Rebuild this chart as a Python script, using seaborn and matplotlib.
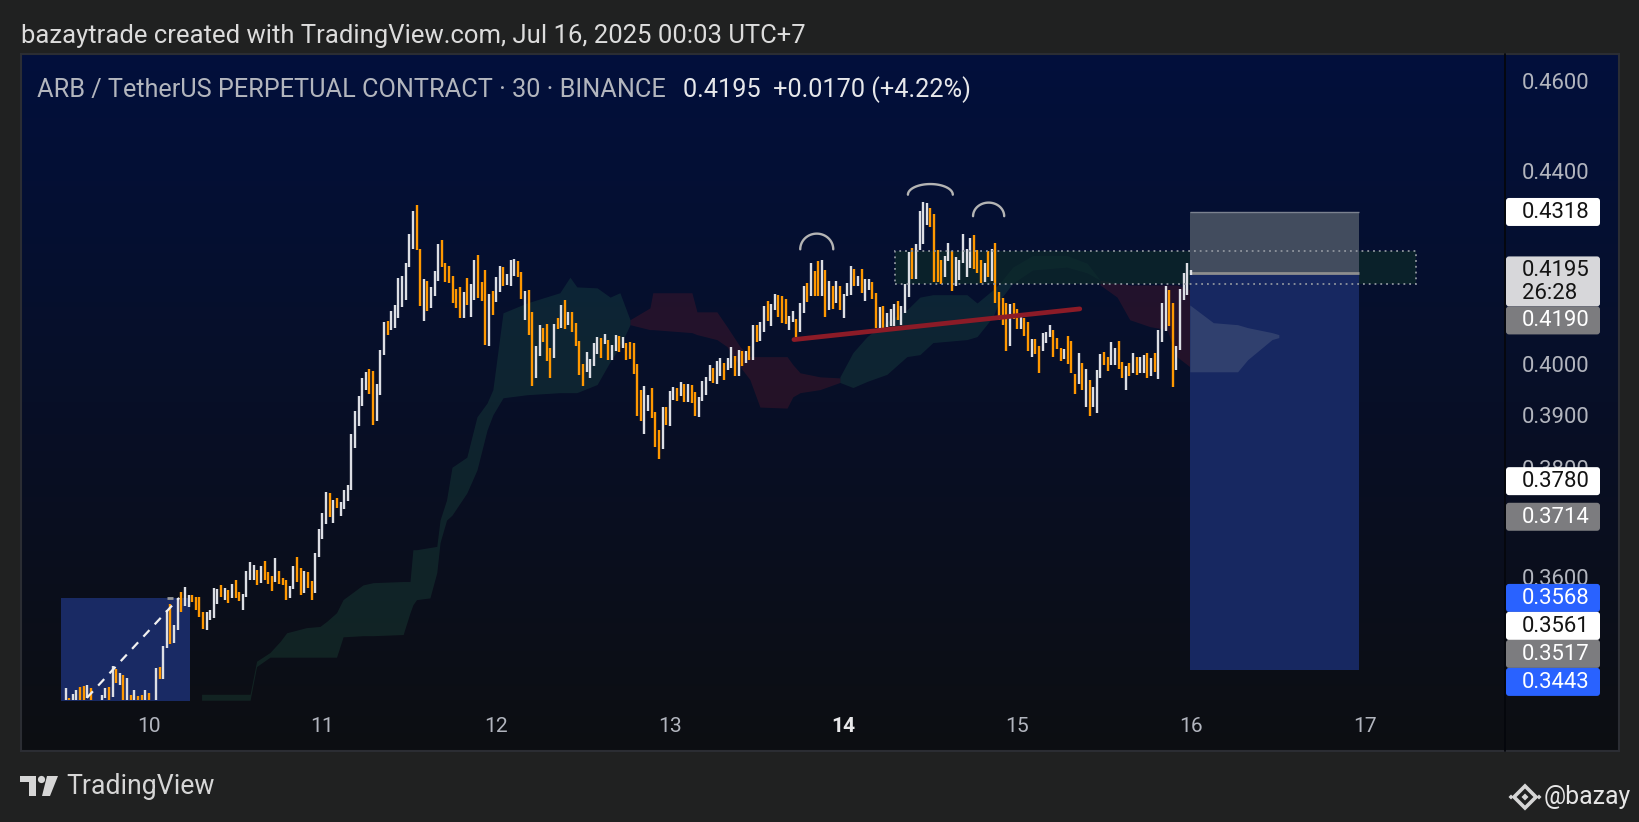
import numpy as np
import pandas as pd
import matplotlib
matplotlib.use("Agg")
import matplotlib.pyplot as plt
import seaborn as sns
from matplotlib.patches import Rectangle, FancyBboxPatch, Polygon, Circle

# ------------------------------------------------------------------ data
last_bar_time = "2025-07-16 00:00"
opens = [
    0.3392, 0.3395, 0.3392, 0.3393, 0.3414, 0.3416, 0.3395, 0.3412, 0.3388, 0.3378,
    0.3388, 0.3395, 0.3414, 0.3398, 0.3444, 0.3418, 0.3435, 0.3390, 0.3401, 0.3392,
    0.3399, 0.3401, 0.3392, 0.3404, 0.3390, 0.3388, 0.3448, 0.3428, 0.3481, 0.3558,
    0.3489, 0.3512, 0.3578, 0.3554, 0.3552, 0.3574, 0.3570, 0.3570, 0.3543, 0.3512,
    0.3529, 0.3532, 0.3557, 0.3591, 0.3565, 0.3582, 0.3568, 0.3600, 0.3578, 0.3546,
    0.3570, 0.3600, 0.3600, 0.3618, 0.3594, 0.3634, 0.3614, 0.3606, 0.3596, 0.3616,
    0.3603, 0.3600, 0.3567, 0.3584, 0.3640, 0.3621, 0.3577, 0.3614, 0.3598, 0.3576,
    0.3640, 0.3673, 0.3700, 0.3758, 0.3702, 0.3748, 0.3715, 0.3729, 0.3744, 0.3764,
    0.3842, 0.3885, 0.3924, 0.3955, 0.3996, 0.3992, 0.3895, 0.3944, 0.4024, 0.4092,
    0.4073, 0.4078, 0.4098, 0.4120, 0.4134, 0.4203, 0.4240, 0.4333, 0.4240, 0.4091,
    0.4173, 0.4118, 0.4142, 0.4174, 0.4259, 0.4211, 0.4204, 0.4183, 0.4157, 0.4160,
    0.4098, 0.4180, 0.4100, 0.4135, 0.4227, 0.4171, 0.4196, 0.4042, 0.4153, 0.4131,
    0.4150, 0.4202, 0.4165, 0.4162, 0.4183, 0.4215, 0.4192, 0.4094, 0.4155, 0.4110,
    0.3977, 0.4022, 0.4078, 0.4086, 0.4038, 0.4018, 0.4098, 0.4077, 0.4134, 0.4083,
    0.4110, 0.4088, 0.4052, 0.4006, 0.3989, 0.3977, 0.4001, 0.4026, 0.4058, 0.4046,
    0.4054, 0.4014, 0.4032, 0.4062, 0.4038, 0.4048, 0.4050, 0.4048, 0.4006, 0.3955,
    0.3869, 0.3913, 0.3958, 0.3912, 0.3877, 0.3840, 0.3921, 0.3884, 0.3935, 0.3958,
    0.3942, 0.3966, 0.3930, 0.3964, 0.3951, 0.3902, 0.3932, 0.3945, 0.3971, 0.3997,
    0.3966, 0.3982, 0.4007, 0.3994, 0.3997, 0.4021, 0.3981, 0.4032, 0.4008, 0.4041,
    0.4013, 0.4084, 0.4052, 0.4070, 0.4132, 0.4082, 0.4114, 0.4145, 0.4143, 0.4136,
    0.4073, 0.4089, 0.4096, 0.4069, 0.4108, 0.4170, 0.4142, 0.4194, 0.4215, 0.4143,
    0.4196, 0.4114, 0.4162, 0.4129, 0.4163, 0.4097, 0.4143, 0.4145, 0.4197, 0.4163,
    0.4197, 0.4132, 0.4155, 0.4172, 0.4148, 0.4071, 0.4121, 0.4079, 0.4082, 0.4081,
    0.4132, 0.4084, 0.4107, 0.4140, 0.4242, 0.4177, 0.4237, 0.4250, 0.4290, 0.4326,
    0.4313, 0.4238, 0.4217, 0.4181, 0.4215, 0.4236, 0.4163, 0.4175, 0.4210, 0.4181,
    0.4199, 0.4269, 0.4238, 0.4217, 0.4172, 0.4236, 0.4173, 0.4252, 0.4151, 0.4139,
    0.4129, 0.4042, 0.4129, 0.4115, 0.4076, 0.4097, 0.4089, 0.4019, 0.4055, 0.4042,
    0.4031, 0.4047, 0.4060, 0.4074, 0.4057, 0.4038, 0.4016, 0.4062, 0.4052, 0.3986,
    0.3966, 0.4007, 0.3922, 0.3973, 0.3922, 0.3909, 0.3978, 0.4029, 0.4019, 0.4003,
    0.4003, 0.4052, 0.4009, 0.3955, 0.4007, 0.3987, 0.4019, 0.3988, 0.3988, 0.4027,
    0.3981, 0.4027, 0.3975, 0.4049, 0.4071, 0.4155, 0.4129, 0.3994, 0.4034, 0.4135,
    0.4145, 0.4185,
]
closes = [
    0.3412, 0.3389, 0.3402, 0.3410, 0.3392, 0.3390, 0.3418, 0.3388, 0.3378, 0.3385,
    0.3401, 0.3412, 0.3390, 0.3450, 0.3421, 0.3438, 0.3390, 0.3429, 0.3390, 0.3409,
    0.3390, 0.3388, 0.3410, 0.3390, 0.3385, 0.3447, 0.3428, 0.3484, 0.3547, 0.3488,
    0.3521, 0.3568, 0.3544, 0.3587, 0.3574, 0.3561, 0.3547, 0.3535, 0.3513, 0.3543,
    0.3546, 0.3585, 0.3584, 0.3569, 0.3585, 0.3559, 0.3593, 0.3568, 0.3562, 0.3575,
    0.3616, 0.3632, 0.3627, 0.3590, 0.3625, 0.3600, 0.3592, 0.3581, 0.3639, 0.3593,
    0.3590, 0.3564, 0.3589, 0.3625, 0.3597, 0.3573, 0.3616, 0.3585, 0.3564, 0.3648,
    0.3692, 0.3721, 0.3760, 0.3713, 0.3745, 0.3730, 0.3741, 0.3764, 0.3773, 0.3870,
    0.3914, 0.3943, 0.3977, 0.3989, 0.3947, 0.3887, 0.3965, 0.4034, 0.4089, 0.4063,
    0.4112, 0.4124, 0.4180, 0.4184, 0.4210, 0.4272, 0.4320, 0.4238, 0.4121, 0.4177,
    0.4111, 0.4161, 0.4194, 0.4251, 0.4203, 0.4172, 0.4170, 0.4129, 0.4118, 0.4097,
    0.4150, 0.4124, 0.4167, 0.4217, 0.4139, 0.4133, 0.4044, 0.4147, 0.4104, 0.4181,
    0.4204, 0.4163, 0.4188, 0.4217, 0.4219, 0.4182, 0.4137, 0.4153, 0.4064, 0.3962,
    0.4042, 0.4084, 0.4049, 0.4012, 0.3977, 0.4086, 0.4076, 0.4124, 0.4076, 0.4110,
    0.4069, 0.4041, 0.3984, 0.3962, 0.4030, 0.4016, 0.4048, 0.4060, 0.4018, 0.4066,
    0.4014, 0.4044, 0.4064, 0.4030, 0.4060, 0.4014, 0.4016, 0.3986, 0.3904, 0.3895,
    0.3963, 0.3945, 0.3900, 0.3845, 0.3822, 0.3921, 0.3886, 0.3953, 0.3960, 0.3933,
    0.3969, 0.3931, 0.3966, 0.3929, 0.3904, 0.3941, 0.3971, 0.3980, 0.4004, 0.3968,
    0.4012, 0.4017, 0.3973, 0.4017, 0.4039, 0.3982, 0.4034, 0.4001, 0.4032, 0.4014,
    0.4084, 0.4049, 0.4089, 0.4121, 0.4091, 0.4126, 0.4147, 0.4100, 0.4087, 0.4086,
    0.4102, 0.4112, 0.4060, 0.4128, 0.4163, 0.4131, 0.4211, 0.4143, 0.4143, 0.4217,
    0.4100, 0.4173, 0.4115, 0.4173, 0.4114, 0.4147, 0.4170, 0.4204, 0.4163, 0.4184,
    0.4149, 0.4177, 0.4177, 0.4136, 0.4077, 0.4119, 0.4077, 0.4108, 0.4115, 0.4126,
    0.4093, 0.4121, 0.4167, 0.4233, 0.4177, 0.4250, 0.4321, 0.4339, 0.4337, 0.4286,
    0.4171, 0.4171, 0.4167, 0.4225, 0.4252, 0.4152, 0.4222, 0.4217, 0.4272, 0.4240,
    0.4262, 0.4198, 0.4190, 0.4168, 0.4211, 0.4182, 0.4240, 0.4129, 0.4093, 0.4084,
    0.4031, 0.4125, 0.4095, 0.4076, 0.4102, 0.4061, 0.4031, 0.4055, 0.4026, 0.3987,
    0.4068, 0.4070, 0.4084, 0.4020, 0.4036, 0.4011, 0.4036, 0.4005, 0.3987, 0.3946,
    0.4027, 0.3954, 0.3995, 0.3904, 0.3960, 0.3994, 0.4025, 0.4003, 0.3992, 0.4049,
    0.4038, 0.3996, 0.3977, 0.4002, 0.3981, 0.4028, 0.3984, 0.4019, 0.4024, 0.3977,
    0.4017, 0.3990, 0.4074, 0.4128, 0.4163, 0.4081, 0.3960, 0.4042, 0.4157, 0.4189,
    0.4210, 0.4195,
]

# Ichimoku cloud edges (bar index, upper, lower)
green1_x = [37.6, 51.0, 52.8, 56.5, 59.3, 61.1, 66.6, 70.3, 72.2, 74.9, 76.7, 82.2, 85.0, 93.3, 95.2,
            96.0, 97.0, 100.7, 102.6, 103.5, 105.3, 106.8, 110.9, 113.7, 116.5, 118.1, 120.9, 127.5,
            136.6, 139.4, 141.3, 146.9, 150.5, 153.2, 156.0]
green1_top = [0.3402, 0.3402, 0.3458, 0.3473, 0.3492, 0.3507, 0.3516, 0.3518, 0.3527, 0.3542, 0.3565,
              0.3591, 0.3595, 0.3597, 0.3597, 0.3654, 0.3654, 0.3658, 0.3660, 0.3708, 0.3745, 0.3806,
              0.3825, 0.3902, 0.3929, 0.3955, 0.4108, 0.4128, 0.4149, 0.4181, 0.4161, 0.4159, 0.4140,
              0.4149, 0.4094]
green1_bot = [0.3392, 0.3392, 0.3449, 0.3465, 0.3465, 0.3465, 0.3465, 0.3465, 0.3465, 0.3465, 0.3500,
              0.3502, 0.3502, 0.3504, 0.3542, 0.3556, 0.3565, 0.3568, 0.3613, 0.3667, 0.3708, 0.3717,
              0.3758, 0.3801, 0.3877, 0.3906, 0.3939, 0.3945, 0.3949, 0.3949, 0.3949, 0.3965, 0.4010,
              0.4040, 0.4084]
red1_x = [156.0, 161.5, 162.3, 173.1, 174.5, 180.0, 182.8, 186.4, 189.1, 191.9, 199.4, 201.0, 203.0, 208.5, 214.0]
red1_top = [0.4094, 0.4118, 0.4149, 0.4149, 0.4110, 0.4110, 0.4080, 0.4040, 0.4020, 0.4020, 0.4020,
            0.4004, 0.3988, 0.3980, 0.3978]
red1_bot = [0.4084, 0.4074, 0.4074, 0.4068, 0.4064, 0.4054, 0.4040, 0.4000, 0.3975, 0.3921, 0.3919,
            0.3941, 0.3949, 0.3955, 0.3969]
green2_x = [214.0, 217.6, 221.5, 227.0, 232.5, 236.1, 239.7, 249.1, 251.9, 256.3, 258.2, 261.8, 267.3,
            276.7, 282.3, 285.9]
green2_top = [0.3980, 0.4028, 0.4060, 0.4090, 0.4114, 0.4140, 0.4145, 0.4145, 0.4128, 0.4155, 0.4169,
              0.4202, 0.4226, 0.4226, 0.4210, 0.4175]
green2_bot = [0.3969, 0.3959, 0.3971, 0.3985, 0.4020, 0.4024, 0.4048, 0.4054, 0.4060, 0.4100, 0.4134,
              0.4169, 0.4196, 0.4202, 0.4190, 0.4175]
red2_x = [285.9, 290.6, 294.1, 299.7, 304.4, 307.1, 310.7]
red2_top = [0.4175, 0.4169, 0.4165, 0.4165, 0.4165, 0.4165, 0.4155]
red2_bot = [0.4165, 0.4140, 0.4094, 0.4080, 0.4074, 0.4020, 0.4000]
future_x = [310.7, 317.2, 323.9, 326.7, 333.4, 335.3]
future_top = [0.4124, 0.4088, 0.4084, 0.4078, 0.4068, 0.4064]
future_bot = [0.3990, 0.3990, 0.3990, 0.4014, 0.4054, 0.4058]

# drawings (bar index / price)
pos_x = [310.7, 357.4]
pos_stop, pos_entry, pos_target = 0.4318, 0.4190, 0.3443
old_box_x = [-1.2, 34.4]
old_box_top = 0.3568
old_dash_x = [5.9, 31.4]
old_dash_y = [0.3396, 0.3568]
zone_x = [229.3, 373.2]
zone_top, zone_bot = 0.4236, 0.4167
trend_x = [201.3, 280.3]
trend_y = [0.4054, 0.4116]
arc_center = [207.6, 239.0, 255.1]
arc_halfwidth = [4.56, 6.2, 4.3]
arc_base = [0.4239, 0.4355, 0.4309]
arc_peak = [0.4272, 0.4378, 0.4338]

price_ticks = [0.46, 0.44, 0.40, 0.39, 0.38, 0.37, 0.36]
day_labels = ["10", "11", "12", "13", "14", "15", "16", "17"]
label_values = [0.4318, 0.4195, 0.4190, 0.3780, 0.3714, 0.3568, 0.3561, 0.3517, 0.3443]
label_bg = ["#ffffff", "#d7d7da", "#7c7c7f", "#ffffff", "#7c7c7f", "#2962ff", "#ffffff", "#7c7c7f", "#2962ff"]
label_fg = ["#131313", "#131313", "#ffffff", "#131313", "#ffffff", "#ffffff", "#131313", "#ffffff", "#ffffff"]
countdown = "26:28"

header = "bazaytrade created with TradingView.com, Jul 16, 2025 00:03 UTC+7"
title_sym = "ARB / TetherUS PERPETUAL CONTRACT · 30 · BINANCE"
title_px = "0.4195  +0.0170 (+4.22%)"

# ------------------------------------------------------------------ style
sns.set_theme(style="dark")
plt.rcParams["font.family"] = ["Roboto", "DejaVu Sans"]

W, H = 1640, 822
fig = plt.figure(figsize=(W / 100, H / 100), dpi=100)
fig.patch.set_facecolor("#202121")

PL, PR, PT, PB = 21, 1619, 54, 751      # panel
AL, AR, AB = 21, 1505, 700              # plot area

# gradient panel background
bgax = fig.add_axes([PL / W, 1 - PB / H, (PR - PL) / W, (PB - PT) / H], zorder=0)
ctop = np.array([2, 16, 60]) / 255
cbot = np.array([13, 14, 18]) / 255
tt = np.linspace(0, 1, 300)[:, None]
grad = ctop * (1 - tt) + cbot * tt
bgax.imshow(grad[:, None, :], aspect="auto", extent=[0, 1, 0, 1])
bgax.axis("off")

ax = fig.add_axes([AL / W, 1 - AB / H, (AR - AL) / W, (AB - PT) / H], zorder=2)
ax.set_facecolor("none")
ax.set_yscale("log")
for s in ax.spines.values():
    s.set_visible(False)

times = pd.date_range(end=last_bar_time, periods=len(closes), freq="30min")
bar = pd.Timedelta("30min")
xi = np.arange(len(closes))
o = np.array(opens)
c = np.array(closes)
up = c >= o
lo = np.minimum(o, c)
hi = np.maximum(o, c)

UP, DN = "#dcdee4", "#ff9800"
GREEN, RED = (0.16, 0.45, 0.33, 0.21), (0.55, 0.12, 0.17, 0.22)

ax.fill_between(green1_x, green1_bot, green1_top, color=GREEN, lw=0, zorder=1)
ax.fill_between(red1_x, red1_bot, red1_top, color=RED, lw=0, zorder=1)
ax.fill_between(green2_x, green2_bot, green2_top, color=GREEN, lw=0, zorder=1)
ax.fill_between(red2_x, red2_bot, red2_top, color=RED, lw=0, zorder=1)

# resistance zone
ax.fill_between(zone_x, zone_bot, zone_top, color=(0.05, 0.16, 0.16, 0.7), lw=0, zorder=1.5)

# old position box (bottom-left)
ax.fill_between(old_box_x, 0.30, old_box_top, color="#192a64", lw=0, zorder=2)

# current short position box
ax.fill_between(pos_x, pos_entry, pos_stop, color="#424c5e", lw=0, zorder=2)
ax.fill_between(pos_x, pos_target, pos_entry, color="#172861", lw=0, zorder=2)
ax.hlines(pos_stop, pos_x[0], pos_x[1], color="#7b8290", lw=1.0, zorder=2.1)
ax.hlines(pos_entry, pos_x[0], pos_x[1], color="#8e8e8e", lw=2.0, zorder=2.2)

# future cloud drawn over the box
ax.fill_between(future_x, future_bot, future_top, color=(0.40, 0.45, 0.55, 0.32), lw=0, zorder=3)

# zone border
ax.add_patch(Rectangle((zone_x[0], zone_bot), zone_x[1] - zone_x[0], zone_top - zone_bot,
                       fill=False, ec="#8f959e", lw=1.3, ls=(0, (1, 2.2)), zorder=5))

# candles
ax.vlines(xi[up], lo[up], hi[up], color=UP, lw=1.7, zorder=4)
ax.vlines(xi[~up], lo[~up], hi[~up], color=DN, lw=1.7, zorder=4)

# neckline
sns.lineplot(x=trend_x, y=trend_y, ax=ax, color="#8c1b27", lw=3.4, legend=False, zorder=6,
             solid_capstyle="round")
# dashed line in old box
ax.plot(old_dash_x, old_dash_y, color="#f0f0f0", lw=1.6, ls=(0, (4, 3.5)), zorder=6)
ax.hlines(old_box_top, 28.1, 29.8, color="#9a9a9a", lw=2, zorder=6)

# arcs
tp = np.linspace(0, np.pi, 60)
for cx, hw, b, p in zip(arc_center, arc_halfwidth, arc_base, arc_peak):
    xs = cx + hw * np.cos(tp)
    ys = np.exp(np.log(b) + (np.log(p) - np.log(b)) * np.sin(tp))
    ax.plot(xs, ys, color="#b4b4b4", lw=1.7, solid_capstyle="round", zorder=6)

ax.set_xlim(-12.3, 397.8)
ax.set_ylim(0.33924, 0.46687)
ax.set_xticks([])
ax.set_yticks([])
ax.yaxis.set_minor_locator(matplotlib.ticker.NullLocator())
ax.set_xlabel("")
ax.set_ylabel("")

# ------------------------------------------------------------------ overlay
ov = fig.add_axes([0, 0, 1, 1], zorder=3)
ov.set_xlim(0, W)
ov.set_ylim(H, 0)
ov.axis("off")
ov.set_facecolor("none")
renderer = fig.canvas.get_renderer()


def fit(t, width):
    w = t.get_window_extent(renderer=renderer).width
    t.set_fontsize(t.get_fontsize() * width / w)


def px(xv, yv):
    d = ax.transData.transform((xv, yv))
    return d[0], H - d[1]


ov.add_patch(Rectangle((PL, PT), PR - PL, PB - PT, fill=False, ec="#2b2d33", lw=1.5))
ov.plot([AR, AR], [PT, PB], color="#05070c", lw=1.3)

probe = ov.text(0, 0, "0.4600", fontsize=16)
fit(probe, 68)
fs_lab = probe.get_fontsize()
probe.remove()

# price tick labels (partly hidden by the price labels, as in TradingView)
for v in price_ticks:
    _, yy = px(0, v)
    ov.text(1522, yy, f"{v:.4f}", color="#b2b5be", fontsize=fs_lab, ha="left", va="center", zorder=1)

# day labels
t0 = times[0]
for d in day_labels:
    ts = pd.Timestamp(f"2025-07-{d} 00:00")
    xv = (ts - t0) / bar
    xx, _ = px(xv, 0.4)
    bold = d == "14"
    ov.text(xx, 726, d, color="#e8e8ea" if bold else "#b2b5be", fontsize=fs_lab * 0.95,
            fontweight="bold" if bold else "normal", ha="center", va="center")

# price labels stacked like TradingView
prev_bottom = -1e9
for i, v in enumerate(label_values):
    _, yy = px(0, v)
    hbox = 50 if v == 0.4195 else 28
    top = max(yy - 14, prev_bottom)
    ov.add_patch(FancyBboxPatch((1506, top), 94, hbox, boxstyle="round,pad=0,rounding_size=3",
                                fc=label_bg[i], ec="none", zorder=5))
    ov.text(1522, top + 14.5, f"{v:.4f}", color=label_fg[i], fontsize=fs_lab, ha="left",
            va="center", zorder=6)
    if v == 0.4195:
        ov.text(1522, top + 37.5, countdown, color=label_fg[i], fontsize=fs_lab, ha="left",
                va="center", zorder=6)
    prev_bottom = top + hbox

# header & title
th = ov.text(21, 35.5, header, color="#dcdcdc", fontsize=16, ha="left", va="center")
fit(th, 782)
t1 = ov.text(37, 90, title_sym, color="#b3b6be", fontsize=16, ha="left", va="center")
fit(t1, 630)
t2 = ov.text(683, 90, title_px, color="#e6e7ea", fontsize=t1.get_fontsize(), ha="left", va="center")

# footer: TradingView logo
logo = "#d6d6d6"
ov.add_patch(Polygon([(20, 776), (36, 776), (36, 796), (29, 796), (29, 782), (20, 782)], closed=True,
                     fc=logo, ec="none"))
ov.add_patch(Circle((41.5, 779.5), 3.6, fc=logo, ec="none"))
ov.add_patch(Polygon([(47, 776), (58, 776), (50, 796), (42, 796)], closed=True, fc=logo, ec="none"))
tf = ov.text(66, 786, "TradingView", color=logo, fontsize=18, ha="left", va="center")
fit(tf, 148)

# footer: Binance-like icon and handle
cx0, cy0 = 1525, 797
ov.add_patch(Polygon([(cx0, cy0 - 11), (cx0 + 11, cy0), (cx0, cy0 + 11), (cx0 - 11, cy0)], closed=True,
                     fill=False, ec=logo, lw=2.6))
ov.add_patch(Polygon([(cx0, cy0 - 3.5), (cx0 + 3.5, cy0), (cx0, cy0 + 3.5), (cx0 - 3.5, cy0)],
                     closed=True, fc=logo, ec="none"))
for dx in (-14, 14):
    ov.add_patch(Polygon([(cx0 + dx, cy0 - 2.5), (cx0 + dx + 2.5, cy0), (cx0 + dx, cy0 + 2.5),
                          (cx0 + dx - 2.5, cy0)], closed=True, fc=logo, ec="none"))
tb = ov.text(1631, 797, "@bazay", color="#e6e6e6", fontsize=18, ha="right", va="center")
fit(tb, 87)

fig.savefig("out.png", dpi=100, facecolor=fig.get_facecolor())
